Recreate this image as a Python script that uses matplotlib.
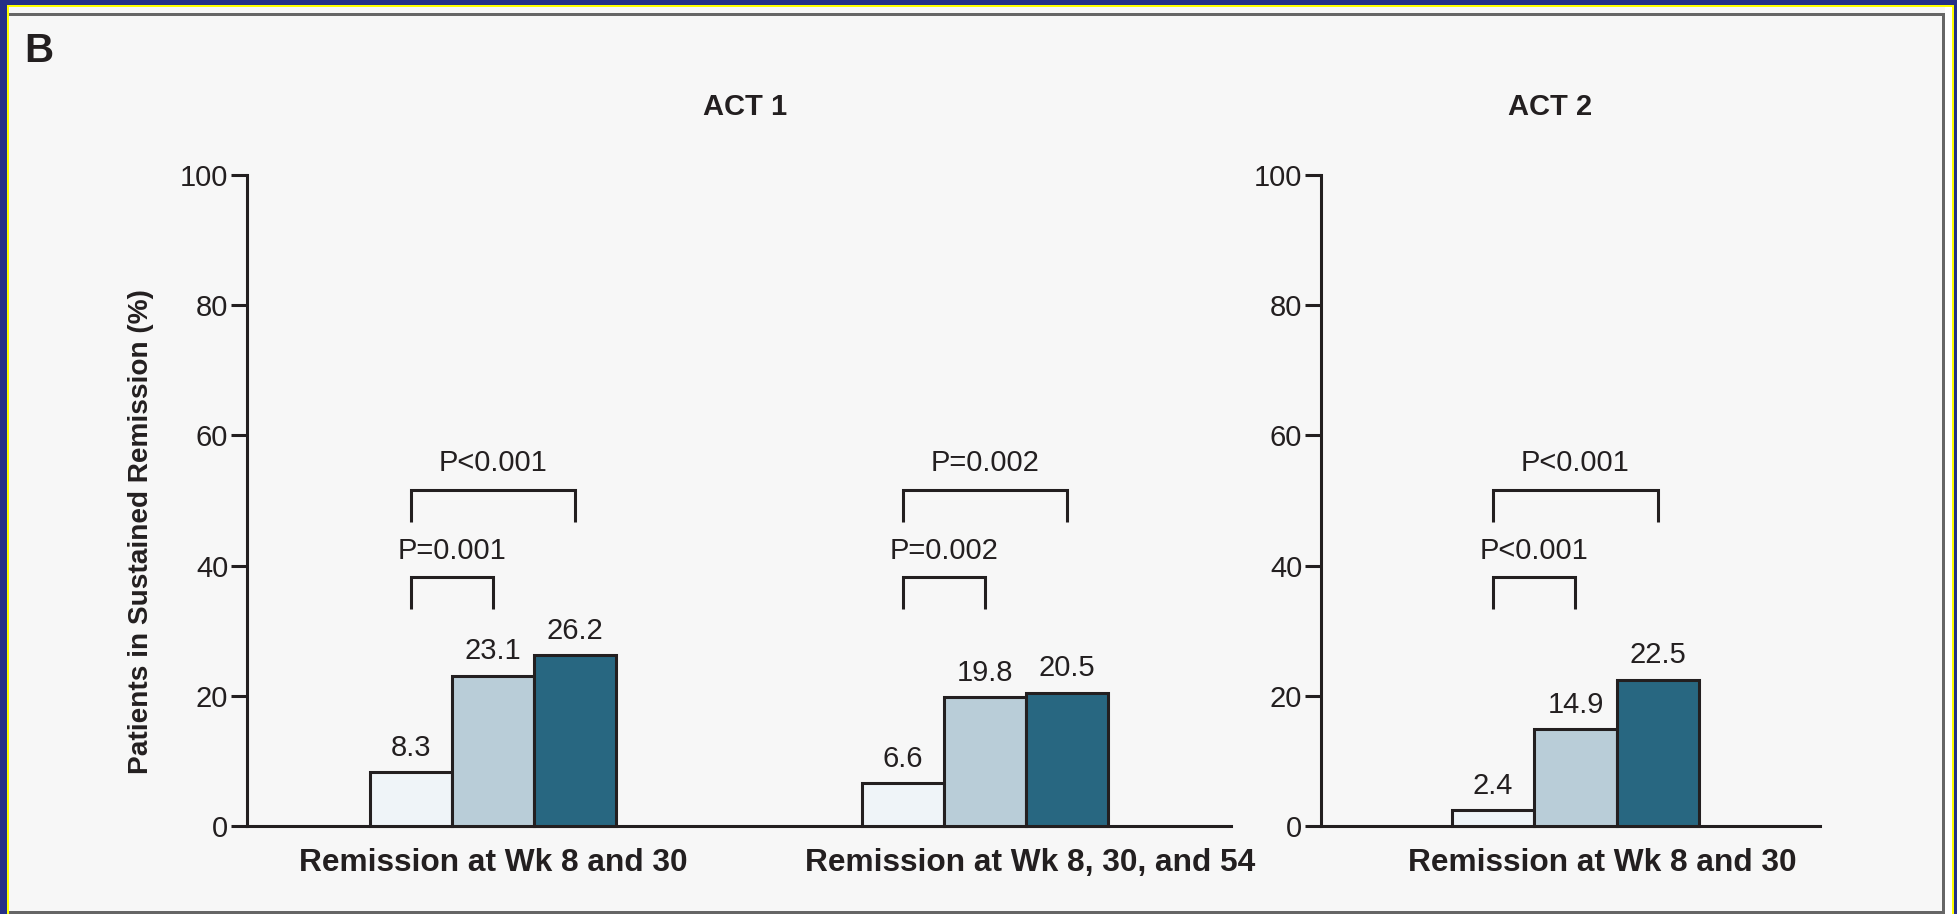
import matplotlib
matplotlib.use("Agg")
import matplotlib.pyplot as plt
from matplotlib.patches import Rectangle
from matplotlib.transforms import blended_transform_factory

# ---------------- data ----------------
act1_categories = ["Remission at Wk 8 and 30", "Remission at Wk 8, 30, and 54"]
act1_placebo = [8.3, 6.6]
act1_infl5 = [23.1, 19.8]
act1_infl10 = [26.2, 20.5]
act1_p_low = ["P=0.001", "P=0.002"]
act1_p_high = ["P<0.001", "P=0.002"]

act2_categories = ["Remission at Wk 8 and 30"]
act2_placebo = [2.4]
act2_infl5 = [14.9]
act2_infl10 = [22.5]
act2_p_low = ["P<0.001"]
act2_p_high = ["P<0.001"]

panel_titles = ["ACT 1", "ACT 2"]
y_ticks = [0, 20, 40, 60, 80, 100]
y_label = "Patients in Sustained Remission (%)"
panel_letter = "B"

# ---------------- style ----------------
W, H = 1957, 914
FONT = ["Liberation Sans", "DejaVu Sans"]
plt.rcParams["font.family"] = FONT
INK = "#231f20"
BG = "#f7f7f7"
bar_colors = ["#eff4f8", "#b9cdd8", "#286781"]
LW = 2.2
FS = 21

fig = plt.figure(figsize=(W / 100, H / 100), dpi=100, facecolor=BG)


def px_rect(x0, y0, w, h, color):
    fig.add_artist(Rectangle((x0 / W, 1 - (y0 + h) / H), w / W, h / H,
                             transform=fig.transFigure, facecolor=color,
                             edgecolor="none", zorder=10))


# frame decorations
px_rect(0, 0, 7, H, "#253087")
px_rect(0, 0, W, 5, "#253087")
px_rect(1954, 0, 3, H, "#253087")
px_rect(7, 5, 2, H, "#ffff00")
px_rect(7, 5, 1947, 2, "#ffff00")
px_rect(1952, 5, 2, H, "#ffff00")
px_rect(1945, 7, 7, H, "#ffffff")
px_rect(9, 13, 1936, 3, "#666666")
px_rect(1942, 13, 3, H, "#666666")
px_rect(9, 911, 1936, 3, "#666666")


def make_axes(x0, x1):
    top, bot = 175, 826
    return fig.add_axes([x0 / W, 1 - bot / H, (x1 - x0) / W, (bot - top) / H])


ax1 = make_axes(247, 1231)
ax2 = make_axes(1321, 1820)

panels = [
    (ax1, (0, 12.0), [3.0, 9.0], [3.0, 9.55], act1_categories,
     act1_placebo, act1_infl5, act1_infl10, act1_p_low, act1_p_high),
    (ax2, (0, 6.04), [3.08], [3.4], act2_categories,
     act2_placebo, act2_infl5, act2_infl10, act2_p_low, act2_p_high),
]

for (ax, xlim, centers, label_x, cats, s1, s2, s3, plow, phigh) in panels:
    ax.set_facecolor("none")
    ax.set_xlim(*xlim)
    ax.set_ylim(0, 100)
    for sp in ["top", "right"]:
        ax.spines[sp].set_visible(False)
    for sp in ["left", "bottom"]:
        ax.spines[sp].set_linewidth(LW)
        ax.spines[sp].set_color(INK)
    ax.set_yticks(y_ticks)
    ax.set_yticklabels([str(t) for t in y_ticks])
    ax.tick_params(axis="y", length=11.5, width=LW, color=INK, pad=2,
                   labelsize=FS, labelcolor=INK)
    ax.set_xticks([])

    for k, series in enumerate([s1, s2, s3]):
        xs = [c + (k - 1) for c in centers]
        ax.bar(xs, series, width=1.0, color=bar_colors[k], edgecolor=INK,
               linewidth=LW, zorder=3, clip_on=False)
        for x, v in zip(xs, series):
            ax.text(x, v + 1.6, f"{v}", ha="center", va="bottom",
                    fontsize=FS, color=INK)

    for c, lo, hi in zip(centers, plow, phigh):
        xa, xb, xc = c - 1, c, c + 1
        ax.plot([xa, xa, xb, xb], [33.3, 38.2, 38.2, 33.3], color=INK,
                lw=LW, solid_joinstyle="miter", solid_capstyle="butt")
        ax.plot([xa, xa, xc, xc], [46.7, 51.6, 51.6, 46.7], color=INK,
                lw=LW, solid_joinstyle="miter", solid_capstyle="butt")
        ax.text((xa + xb) / 2, 42.3, lo, ha="center", va="center",
                fontsize=FS, color=INK)
        ax.text((xa + xc) / 2, 55.8, hi, ha="center", va="center",
                fontsize=FS, color=INK)

    tr = blended_transform_factory(ax.transData, ax.transAxes)
    for lx, cat in zip(label_x, cats):
        ax.text(lx, -0.057, cat, transform=tr, ha="center", va="center",
                fontsize=22.8, fontweight="bold", color=INK)

fig.text(745 / W, 1 - 107 / H, panel_titles[0], ha="center", va="center",
         fontsize=FS, fontweight="bold", color=INK)
fig.text(1550 / W, 1 - 107 / H, panel_titles[1], ha="center", va="center",
         fontsize=FS, fontweight="bold", color=INK)
fig.text(24 / W, 1 - 51 / H, panel_letter, ha="left", va="center",
         fontsize=29, fontweight="bold", color=INK)
fig.text(141 / W, 1 - 532 / H, y_label, rotation=90, ha="center",
         va="center", fontsize=20.2, fontweight="bold", color=INK)

fig.savefig("out.png", dpi=100, facecolor=BG)
